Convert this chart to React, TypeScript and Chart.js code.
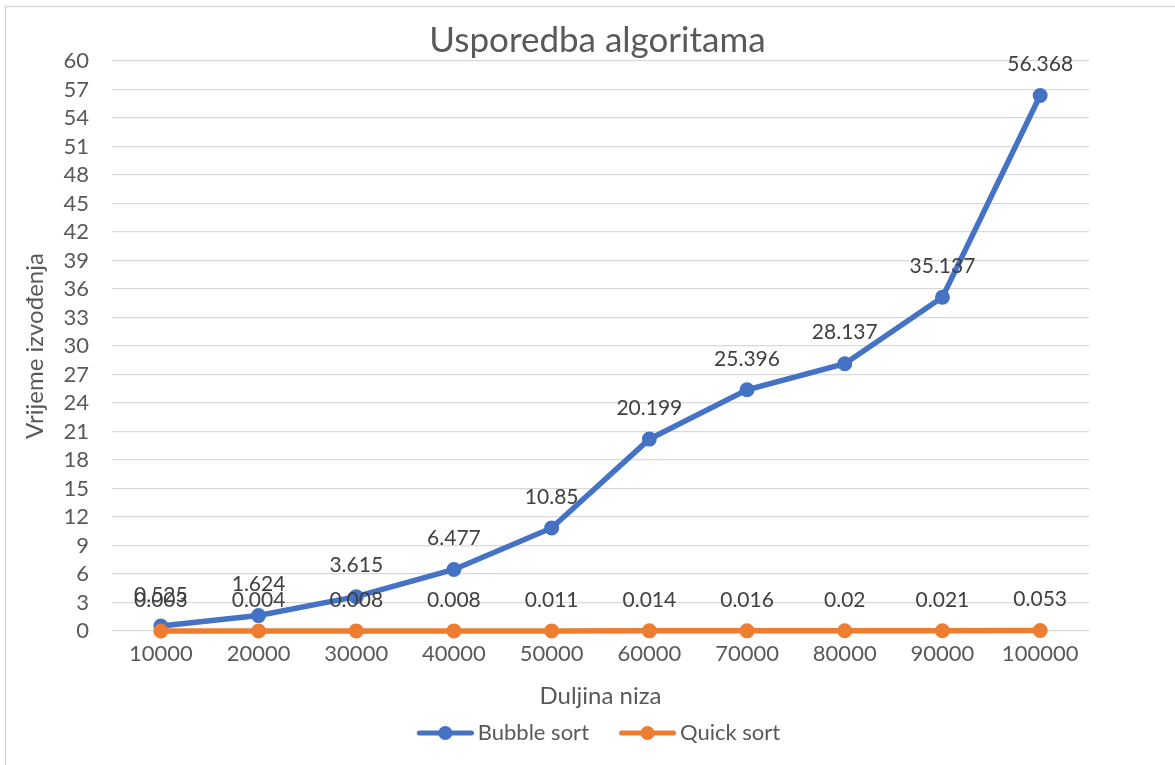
import React, { useEffect, useRef } from "react";
import { Chart, registerables } from "chart.js";

Chart.register(...registerables);

const categories = ["10000", "20000", "30000", "40000", "50000", "60000", "70000", "80000", "90000", "100000"];
const bubbleSort = [0.525, 1.624, 3.615, 6.477, 10.85, 20.199, 25.396, 28.137, 35.137, 56.368];
const quickSort = [0.003, 0.004, 0.008, 0.008, 0.011, 0.014, 0.016, 0.02, 0.021, 0.053];
const seriesNames = ["Bubble sort", "Quick sort"];
const seriesColors = ["#4472C4", "#ED7D31"];
const chartTitle = "Usporedba algoritama";
const xTitle = "Duljina niza";
const yTitle = "Vrijeme izvođenja";

const FONT = "Lato";

function makeLegendIcon(color: string): HTMLCanvasElement {
  const c = document.createElement("canvas");
  c.width = 84;
  c.height = 18;
  const g = c.getContext("2d")!;
  g.strokeStyle = color;
  g.lineWidth = 5;
  g.lineCap = "round";
  g.beginPath();
  g.moveTo(29.5, 9);
  g.lineTo(81.5, 9);
  g.stroke();
  g.fillStyle = color;
  g.beginPath();
  g.arc(55.5, 9, 7, 0, Math.PI * 2);
  g.fill();
  return c;
}

const borderPlugin = {
  id: "outerBorder",
  beforeDraw(chart: any) {
    const ctx = chart.ctx;
    ctx.save();
    ctx.fillStyle = "#ffffff";
    ctx.fillRect(0, 0, chart.width, chart.height);
    ctx.strokeStyle = "#d9d9d9";
    ctx.lineWidth = 1.5;
    ctx.strokeRect(5.5, 6.5, 1200, 800);
    ctx.restore();
  },
};

const legendShiftPlugin = {
  id: "legendShift",
  afterLayout(chart: any) {
    const lg = chart.legend;
    if (lg) {
      lg.left -= 9;
      lg.right -= 9;
    }
  },
};

const dataLabelPlugin = {
  id: "pointLabels",
  afterDatasetsDraw(chart: any) {
    const ctx = chart.ctx;
    ctx.save();
    ctx.font = `21px ${FONT}`;
    ctx.fillStyle = "#404040";
    ctx.textAlign = "center";
    ctx.textBaseline = "middle";
    chart.data.datasets.forEach((ds: any, i: number) => {
      const meta = chart.getDatasetMeta(i);
      meta.data.forEach((pt: any, j: number) => {
        ctx.fillText(String(ds.data[j]), pt.x, pt.y - 31);
      });
    });
    ctx.restore();
  },
};

export default function App() {
  const ref = useRef<HTMLCanvasElement>(null);

  useEffect(() => {
    document.body.style.margin = "0";
    document.body.style.overflow = "hidden";
    const icons = seriesColors.map(makeLegendIcon);
    const chart = new Chart(ref.current!, {
      type: "line",
      data: {
        labels: categories,
        datasets: [
          {
            label: seriesNames[0],
            data: bubbleSort,
            borderColor: seriesColors[0],
            backgroundColor: seriesColors[0],
            pointBackgroundColor: seriesColors[0],
            pointBorderColor: seriesColors[0],
            borderWidth: 5.5,
            pointRadius: 6,
            pointBorderWidth: 3,
            tension: 0,
            clip: false,
            order: 2,
          },
          {
            label: seriesNames[1],
            data: quickSort,
            borderColor: seriesColors[1],
            backgroundColor: seriesColors[1],
            pointBackgroundColor: seriesColors[1],
            pointBorderColor: seriesColors[1],
            borderWidth: 5.5,
            pointRadius: 6,
            pointBorderWidth: 3,
            tension: 0,
            clip: false,
            order: 1,
          },
        ],
      },
      options: {
        responsive: false,
        animation: false,
        layout: { padding: { left: 20, right: 0, top: 0, bottom: 11 } },
        plugins: {
          title: {
            display: true,
            text: chartTitle,
            color: "#595959",
            font: { family: FONT, size: 35, weight: "normal" },
            padding: { top: 20, bottom: -1 },
          },
          legend: {
            display: true,
            position: "bottom",
            labels: {
              usePointStyle: true,
              pointStyleWidth: 70,
              padding: 10,
              color: "#595959",
              font: { family: FONT, size: 22 },
              generateLabels: (ch: any) =>
                ch.data.datasets.map((ds: any, i: number) => ({
                  text: ds.label,
                  pointStyle: icons[i],
                  fillStyle: seriesColors[i],
                  strokeStyle: seriesColors[i],
                  lineWidth: 0,
                  hidden: false,
                  datasetIndex: i,
                  fontColor: "#595959",
                })),
            },
          },
          tooltip: { enabled: false },
        },
        scales: {
          x: {
            offset: true,
            grid: { display: false, drawTicks: false },
            border: { display: false },
            ticks: { color: "#595959", font: { family: FONT, size: 22 }, padding: 10, maxRotation: 0, autoSkip: false },
            title: {
              display: true,
              text: xTitle,
              color: "#595959",
              font: { family: FONT, size: 24 },
              padding: { top: 0, bottom: 1 },
            },
            afterFit: (s: any) => {
              s.height = 81;
            },
          },
          y: {
            min: 0,
            max: 60,
            grid: { color: "#d9d9d9", lineWidth: 1.3, drawTicks: false },
            border: { display: false },
            ticks: {
              stepSize: 3,
              autoSkip: false,
              color: "#595959",
              font: { family: FONT, size: 22 },
              padding: 23,
            },
            title: {
              display: true,
              text: yTitle,
              color: "#595959",
              font: { family: FONT, size: 24 },
              padding: { top: 1, bottom: 0 },
            },
            afterFit: (s: any) => {
              s.width = 92;
            },
          },
          yRight: {
            position: "right",
            display: true,
            min: 0,
            max: 1,
            grid: { display: false, drawTicks: false },
            border: { display: false },
            ticks: { display: false },
            afterFit: (s: any) => {
              s.width = 86;
            },
          },
        },
      },
      plugins: [borderPlugin, legendShiftPlugin, dataLabelPlugin],
    });
    return () => chart.destroy();
  }, []);

  return (
    <div style={{ width: 1175, height: 765 }}>
      <canvas ref={ref} width={1175} height={765} />
    </div>
  );
}
